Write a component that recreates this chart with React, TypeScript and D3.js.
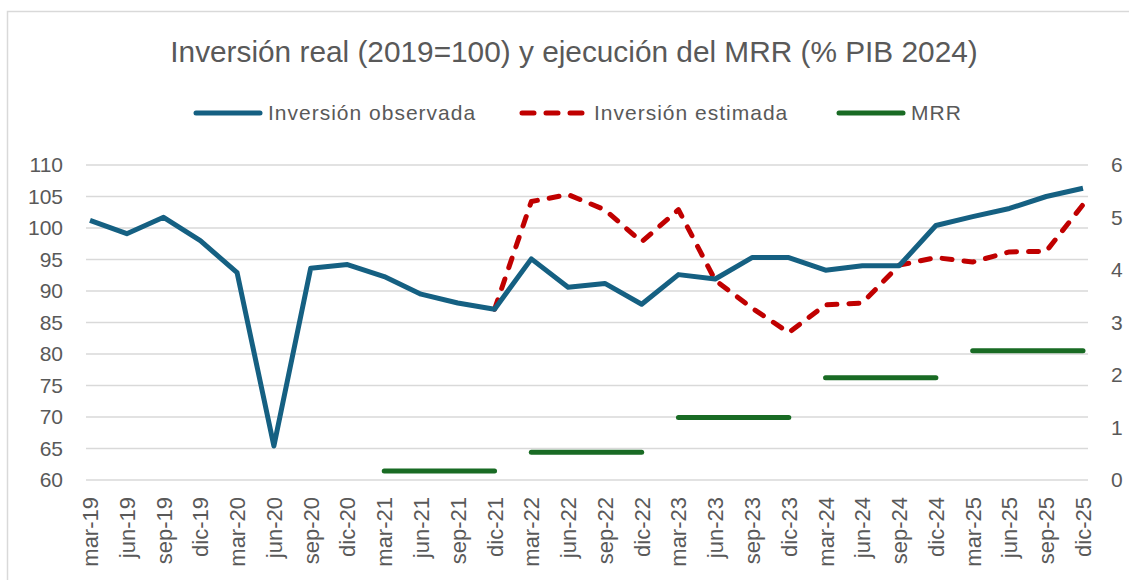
import React, { useEffect, useRef } from 'react';
import * as d3 from 'd3';

const categories = [
  'mar-19', 'jun-19', 'sep-19', 'dic-19',
  'mar-20', 'jun-20', 'sep-20', 'dic-20',
  'mar-21', 'jun-21', 'sep-21', 'dic-21',
  'mar-22', 'jun-22', 'sep-22', 'dic-22',
  'mar-23', 'jun-23', 'sep-23', 'dic-23',
  'mar-24', 'jun-24', 'sep-24', 'dic-24',
  'mar-25', 'jun-25', 'sep-25', 'dic-25',
];

const observada = [
  101.2, 99.1, 101.7, 98.0,
  92.9, 65.4, 93.6, 94.2,
  92.3, 89.5, 88.1, 87.1,
  95.1, 90.6, 91.2, 87.9,
  92.6, 91.9, 95.3, 95.3,
  93.3, 94.0, 94.0, 100.4,
  101.8, 103.1, 105.0, 106.3,
];

const estimada: (number | null)[] = [
  null, null, null, null,
  null, null, null, null,
  null, null, null, 87.1,
  104.2, 105.3, 102.9, 97.8,
  102.9, 91.7, 87.3, 83.4,
  87.8, 88.1, 94.1, 95.3,
  94.6, 96.2, 96.3, 103.7,
];

const mrr: (number | null)[] = [
  null, null, null, null,
  null, null, null, null,
  0.17, 0.17, 0.17, 0.17,
  0.53, 0.53, 0.53, 0.53,
  1.19, 1.19, 1.19, 1.19,
  1.95, 1.95, 1.95, 1.95,
  2.46, 2.46, 2.46, 2.46,
];

const leftTicks = [60, 65, 70, 75, 80, 85, 90, 95, 100, 105, 110];
const rightTicks = [0, 1, 2, 3, 4, 5, 6];

const legendItems = [
  { label: 'Inversión observada', color: '#156082', dash: null, x: 193 },
  { label: 'Inversión estimada', color: '#C00000', dash: '12 12', x: 519 },
  { label: 'MRR', color: '#196B24', dash: null, x: 836 },
];

const title = 'Inversión real (2019=100) y ejecución del MRR (% PIB 2024)';

function App() {
  const svgRef = useRef<SVGSVGElement>(null);

  useEffect(() => {
    const svg = d3.select(svgRef.current);
    svg.selectAll('*').remove();

    const width = 1129;
    const height = 580;
    const textColor = '#595959';
    const sans = '"Liberation Sans", Arial, sans-serif';

    svg.attr('width', width).attr('height', height);

    // chart frame
    svg.append('rect')
      .attr('x', 7.5).attr('y', 11.5)
      .attr('width', width).attr('height', height)
      .attr('fill', 'white').attr('stroke', '#d9d9d9').attr('stroke-width', 1.5);

    const x = d3.scalePoint<string>().domain(categories).range([90, 1083]);
    const yL = d3.scaleLinear().domain([60, 110]).range([480, 165]);
    const yR = d3.scaleLinear().domain([0, 6]).range([480, 165]);

    // gridlines
    svg.append('g')
      .selectAll('line')
      .data(leftTicks)
      .enter()
      .append('line')
      .attr('x1', 86).attr('x2', 1088)
      .attr('y1', d => yL(d)).attr('y2', d => yL(d))
      .attr('stroke', '#d9d9d9').attr('stroke-width', 1.5);

    // left axis labels
    svg.append('g')
      .selectAll('text')
      .data(leftTicks)
      .enter()
      .append('text')
      .attr('x', 63).attr('y', d => yL(d))
      .attr('dy', '0.35em')
      .attr('text-anchor', 'end')
      .attr('font-family', sans).attr('font-size', 21)
      .attr('fill', textColor)
      .text(d => d);

    // right axis labels
    svg.append('g')
      .selectAll('text')
      .data(rightTicks)
      .enter()
      .append('text')
      .attr('x', 1111).attr('y', d => yR(d))
      .attr('dy', '0.35em')
      .attr('text-anchor', 'start')
      .attr('font-family', sans).attr('font-size', 21)
      .attr('fill', textColor)
      .text(d => d);

    // x labels
    svg.append('g')
      .selectAll('text')
      .data(categories)
      .enter()
      .append('text')
      .attr('transform', d => `translate(${(x(d) as number) + 8},497) rotate(-90)`)
      .attr('text-anchor', 'end')
      .attr('font-family', sans).attr('font-size', 22)
      .attr('fill', textColor)
      .text(d => d);

    // MRR segments, one per year
    const years = Array.from(new Set(categories.map(c => c.slice(-2))));
    const mrrLine = d3.line<number>()
      .defined(i => mrr[i] !== null)
      .x(i => x(categories[i]) as number)
      .y(i => yR(mrr[i] as number));
    years.forEach(yr => {
      const idx = categories.map((c, i) => i).filter(i => categories[i].slice(-2) === yr && mrr[i] !== null);
      if (!idx.length) return;
      svg.append('path')
        .attr('d', mrrLine(idx))
        .attr('fill', 'none')
        .attr('stroke', '#196B24').attr('stroke-width', 5)
        .attr('stroke-linecap', 'round');
    });

    // estimated
    const estLine = d3.line<number | null>()
      .defined(d => d !== null)
      .x((d, i) => x(categories[i]) as number)
      .y(d => yL(d as number));
    svg.append('path')
      .attr('d', estLine(estimada))
      .attr('fill', 'none')
      .attr('stroke', '#C00000').attr('stroke-width', 5)
      .attr('stroke-dasharray', '10 12')
      .attr('stroke-linecap', 'round')
      .attr('stroke-linejoin', 'round');

    // observed
    const obsLine = d3.line<number>()
      .x((d, i) => x(categories[i]) as number)
      .y(d => yL(d));
    svg.append('path')
      .attr('d', obsLine(observada))
      .attr('fill', 'none')
      .attr('stroke', '#156082').attr('stroke-width', 5)
      .attr('stroke-linejoin', 'round');

    // title
    svg.append('text')
      .attr('x', 574).attr('y', 62)
      .attr('text-anchor', 'middle')
      .attr('font-family', sans).attr('font-size', 29.8)
      .attr('fill', textColor)
      .text(title);

    // legend
    const lg = svg.append('g');
    legendItems.forEach(item => {
      lg.append('line')
        .attr('x1', item.x + 3).attr('x2', item.x + 67)
        .attr('y1', 113).attr('y2', 113)
        .attr('stroke', item.color).attr('stroke-width', 5)
        .attr('stroke-linecap', 'round')
        .attr('stroke-dasharray', item.dash);
      lg.append('text')
        .attr('x', item.x + 75).attr('y', 113)
        .attr('dy', '0.35em')
        .attr('font-family', sans).attr('font-size', 21)
        .attr('letter-spacing', 1)
        .attr('fill', textColor)
        .text(item.label);
    });
  }, []);

  return (
    <div style={{ position: 'absolute', left: 0, top: 0, width: 1129, height: 580, overflow: 'hidden', background: 'white' }}>
      <svg ref={svgRef} style={{ display: 'block' }}></svg>
    </div>
  );
}

export default App;
